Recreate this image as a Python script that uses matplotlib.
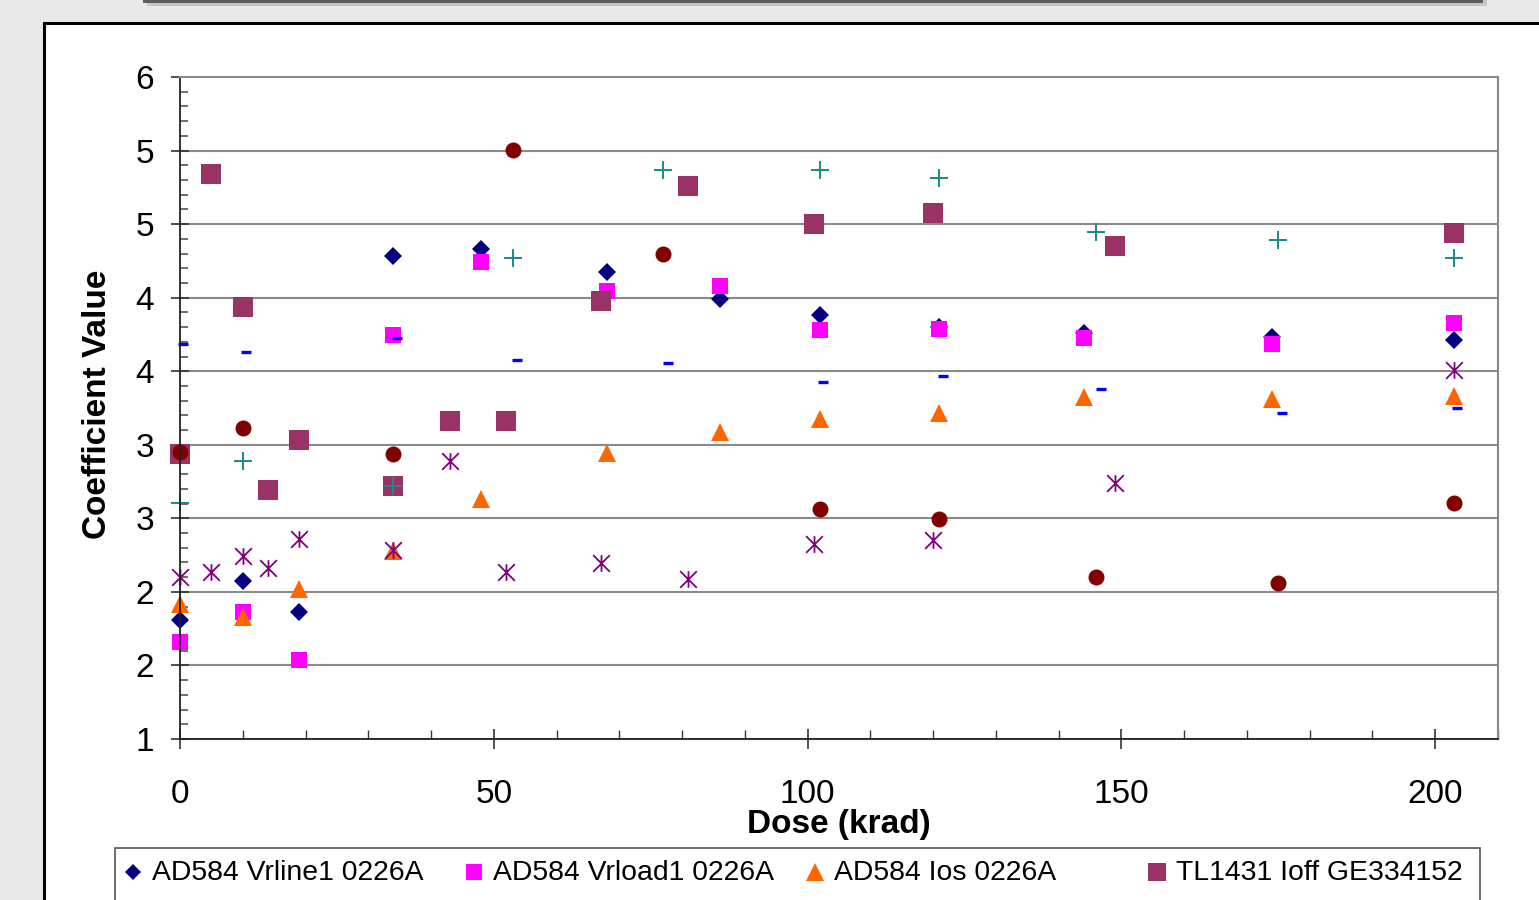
import matplotlib
matplotlib.use("Agg")
import matplotlib.pyplot as plt
from matplotlib.patches import Rectangle
from matplotlib.lines import Line2D
from matplotlib.path import Path
import numpy as np

plt.rcParams['font.family'] = ['Liberation Sans', 'DejaVu Sans']

# AD584 measurements (dose in krad)
dose_ad584 = [0, 10, 19, 34, 48, 68, 86, 102, 121, 144, 174, 203]
vrline1 = [1.90, 2.19, 1.96, 4.65, 4.70, 4.53, 4.32, 4.20, 4.11, 4.07, 4.04, 4.01]
vrload1 = [1.73, 1.96, 1.60, 4.05, 4.60, 4.38, 4.42, 4.09, 4.10, 4.03, 3.98, 4.14]
ios = [2.02, 1.92, 2.13, 2.42, 2.81, 3.16, 3.32, 3.42, 3.46, 3.58, 3.57, 3.59]

# TL1431 measurements
dose_tl1431 = [0, 5, 10, 14, 19, 34, 43, 52, 67, 81, 101, 120, 149, 203]
ioff = [3.15, 5.27, 4.26, 2.88, 3.26, 2.91, 3.40, 3.40, 4.31, 5.18, 4.89, 4.97, 4.72, 4.82]
star_vals = [2.22, 2.26, 2.38, 2.29, 2.51, 2.43, 3.10, 2.26, 2.33, 2.21, 2.47, 2.50, 2.93, 3.79]

# Remaining parts
dose_other = [0, 10, 34, 53, 77, 102, 121, 146, 175, 203]
circle_vals = [3.17, 3.35, 3.15, 5.45, 4.66, 2.74, 2.66, 2.22, 2.18, 2.78]
plus_vals = [2.78, 3.10, 2.91, 4.63, 5.30, 5.30, 5.24, 4.83, 4.77, 4.63]
dose_dash = [0.5, 10.5, 34.5, 53.7, 77.7, 102.5, 121.5, 146.7, 175.6, 203.5]
dash_vals = [3.98, 3.92, 4.03, 3.86, 3.84, 3.70, 3.74, 3.64, 3.46, 3.50]

legend_labels = ["AD584 Vrline1 0226A", "AD584 Vrload1 0226A",
                 "AD584 Ios 0226A", "TL1431 Ioff GE334152"]
y_ticks = np.linspace(1, 6, 10)
y_tick_labels = ["1", "2", "2", "3", "3", "4", "4", "5", "5", "6"]
x_ticks = [0, 50, 100, 150, 200]

W, H = 1539, 900
fig = plt.figure(figsize=(W / 100, H / 100), dpi=100)
fig.patch.set_facecolor('#e9e9e9')


def fx(px):
    return px / W


def fy(py):
    return 1 - py / H


# window strip at the very top
fig.add_artist(Rectangle((fx(147), fy(6)), fx(1487) - fx(147), 6 / H,
                         transform=fig.transFigure, facecolor='#c6c6c6',
                         edgecolor='none', zorder=0))
fig.add_artist(Rectangle((fx(143), fy(2.5)), fx(1483) - fx(143), 3 / H,
                         transform=fig.transFigure, facecolor='#5e5e5e',
                         edgecolor='none', zorder=0))
# white chart panel
fig.add_artist(Rectangle((fx(44), fy(1000)), fx(1700) - fx(44), (1000 - 23) / H,
                         transform=fig.transFigure, facecolor='white',
                         edgecolor='black', linewidth=2.2, zorder=0))

ax = fig.add_axes([fx(180), fy(739), (1498 - 180) / W, (739 - 77) / H])
ax.set_facecolor('none')
ax.set_xlim(0, 210)
ax.set_ylim(1, 6)

grid_c = '#8a8a8a'
ax.set_yticks(y_ticks, y_tick_labels)
ax.set_yticks(np.linspace(1, 6, 46), minor=True)
ax.set_xticks(x_ticks, [str(v) for v in x_ticks])
ax.set_xticks(np.arange(0, 211, 10), minor=True)
ax.yaxis.grid(True, which='major', color=grid_c, linewidth=1.5)
ax.set_axisbelow(True)

ax.tick_params(axis='y', which='major', direction='inout', length=13.5, width=1.2,
               color='#333333', labelsize=24, pad=12)
ax.tick_params(axis='y', which='minor', direction='in', length=6, width=1.2,
               color='#555555')
ax.tick_params(axis='x', which='major', direction='inout', length=14.5, width=1.2,
               color='#333333', labelsize=24, pad=21.5)
ax.tick_params(axis='x', which='minor', direction='in', length=6.5, width=1.0,
               color='#333333')
for side in ('left', 'bottom'):
    ax.spines[side].set_color('#222222')
    ax.spines[side].set_linewidth(1.3)
for side in ('top', 'right'):
    ax.spines[side].set_color(grid_c)
    ax.spines[side].set_linewidth(1.5)

# asterisk: an X crossed by a vertical stroke
star_path = Path([(0, -1), (0, 1), (-1, -1), (1, 1), (-1, 1), (1, -1)],
                 [Path.MOVETO, Path.LINETO, Path.MOVETO, Path.LINETO,
                  Path.MOVETO, Path.LINETO])

kw = dict(linestyle='none', clip_on=False)
ax.plot(dose_ad584, vrline1, marker='D', markersize=9, color='#000080',
        markeredgewidth=0, **kw)
ax.plot(dose_ad584, vrload1, marker='s', markersize=11.5, color='#ff00ff',
        markeredgewidth=0, **kw)
ax.plot(dose_ad584, ios, marker='^', markersize=12.5, color='#ff6600',
        markeredgewidth=0, **kw)
ax.plot(dose_tl1431, ioff, marker='s', markersize=15, color='#993366',
        markeredgewidth=0, **kw)
ax.plot(dose_other, circle_vals, marker='o', markersize=11.5, color='#800000',
        markeredgewidth=0, **kw)
ax.plot(dose_other, plus_vals, marker='+', markersize=12.5, color='#1a8a8a',
        markeredgewidth=1.4, **kw)
ax.plot(dose_dash, dash_vals, marker='_', markersize=7, color='#0000ff',
        markeredgewidth=2.4, **kw)
ax.plot(dose_tl1431, star_vals, marker=star_path, markersize=12, color='#800080',
        markeredgewidth=1.3, **kw)

fig.text(fx(98), fy(404), "Coefficient Value", rotation=90, ha='center',
         va='center', fontsize=24, fontweight='bold')
fig.text(fx(839), fy(824), "Dose (krad)", ha='center', va='center',
         fontsize=24, fontweight='bold')

# legend box and entries
fig.add_artist(Rectangle((fx(115), fy(1000)), fx(1480) - fx(115), (1000 - 848) / H,
                         transform=fig.transFigure, facecolor='white',
                         edgecolor='#555555', linewidth=1.2, zorder=1))
leg_styles = [dict(marker='D', markersize=8, color='#000080'),
              dict(marker='s', markersize=11, color='#ff00ff'),
              dict(marker='^', markersize=13, color='#ff6600'),
              dict(marker='s', markersize=13, color='#993366')]
leg_marker_x = [133, 474, 815, 1157]
for lab, st, mx in zip(legend_labels, leg_styles, leg_marker_x):
    fig.add_artist(Line2D([fx(mx)], [fy(872)], linestyle='none',
                          markeredgewidth=0, transform=fig.transFigure,
                          zorder=3, **st))
    fig.text(fx(mx + 19), fy(873), lab, ha='left', va='center', fontsize=20.4,
             zorder=3)

fig.savefig('out.png', dpi=100, facecolor=fig.get_facecolor())
